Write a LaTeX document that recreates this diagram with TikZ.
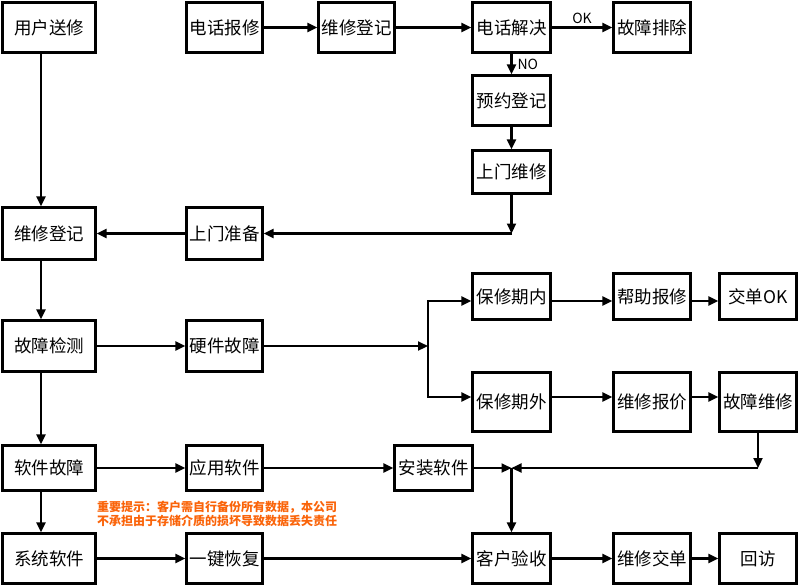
\documentclass[tikz,border=0pt]{standalone}
\usepackage{fontspec}
\setmainfont{Noto Sans CJK SC}
\usetikzlibrary{arrows.meta}
\definecolor{warn}{RGB}{250,100,10}
\begin{document}
\begin{tikzpicture}[x=1pt,y=-1pt,
  box/.style={draw,line width=2.2pt,inner sep=0pt,font=\fontsize{17.5}{20}\selectfont},
  conn/.style={line width=2.2pt,-{Triangle[length=10pt,width=9pt]}},
  lbl/.style={font=\fontsize{14}{16}\selectfont,inner sep=3pt},
  note/.style={anchor=base west,inner sep=0pt,text=warn,font=\bfseries\fontsize{12}{14}\selectfont}]
\useasboundingbox (0,0) rectangle (800,587);
% row 1
\node[box,minimum width=93pt,minimum height=50pt] (yhsx) at (49,27.5) {用户送修};
\node[box,minimum width=76pt,minimum height=50pt] (dhbx) at (224.5,27.5) {电话报修};
\node[box,minimum width=76pt,minimum height=50pt] (wxdja) at (356.5,27.5) {维修登记};
\node[box,minimum width=78pt,minimum height=50pt] (dhjj) at (511.5,27.5) {电话解决};
\node[box,minimum width=77pt,minimum height=50pt] (gzpc) at (652,27.5) {故障排除};
\node[box,minimum width=78pt,minimum height=50pt] (yydj) at (511.5,100.5) {预约登记};
\node[box,minimum width=78pt,minimum height=43pt] (smwx) at (511.5,172) {上门维修};
% row 2
\node[box,minimum width=93pt,minimum height=52pt] (wxdjb) at (49,233.5) {维修登记};
\node[box,minimum width=76pt,minimum height=52pt] (smzb) at (224.5,233.5) {上门准备};
% row 3
\node[box,minimum width=93pt,minimum height=51pt] (gzjc) at (49,346) {故障检测};
\node[box,minimum width=76pt,minimum height=51pt] (yjgz) at (224.5,346) {硬件故障};
\node[box,minimum width=78pt,minimum height=46pt] (bxqn) at (511.5,296.5) {保修期内};
\node[box,minimum width=77pt,minimum height=46pt] (bzbx) at (652,296.5) {帮助报修};
\node[box,minimum width=77pt,minimum height=46pt] (jdok) at (758,296.5) {交单OK};
\node[box,minimum width=78pt,minimum height=59pt] (bxqw) at (511.5,402) {保修期外};
\node[box,minimum width=77pt,minimum height=59pt] (wxbj) at (652,402) {维修报价};
\node[box,minimum width=77pt,minimum height=59pt] (gzwx) at (758,402) {故障维修};
% row 4
\node[box,minimum width=93pt,minimum height=45pt] (rjgz) at (49,468) {软件故障};
\node[box,minimum width=76pt,minimum height=45pt] (yyrj) at (224.5,468) {应用软件};
\node[box,minimum width=78pt,minimum height=45pt] (azrj) at (433.5,468) {安装软件};
% row 5
\node[box,minimum width=93pt,minimum height=50pt] (xtrj) at (49,558.5) {系统软件};
\node[box,minimum width=76pt,minimum height=50pt] (yjhf) at (224.5,558.5) {一键恢复};
\node[box,minimum width=78pt,minimum height=50pt] (khys) at (511.5,558.5) {客户验收};
\node[box,minimum width=77pt,minimum height=50pt] (wxjd) at (652,558.5) {维修交单};
\node[box,minimum width=77pt,minimum height=50pt] (hf) at (758,558.5) {回访};
% note
\node[note] (notea) at (97,511) {重要提示：客户需自行备份所有数据，本公司};
\node[note] (noteb) at (97,525) {不承担由于存储介质的损坏导致数据丢失责任};
% connectors
\draw[conn] ([xshift=-8pt]yhsx.south) -- ([xshift=-8pt]wxdjb.north);
\draw[conn] (dhbx) -- (wxdja);
\draw[conn] (wxdja) -- (dhjj);
\draw[conn] (dhjj) -- node[lbl,above] {OK} (gzpc);
\draw[conn] (dhjj) -- node[lbl,right,xshift=2pt] {NO} (yydj);
\draw[conn] (yydj) -- (smwx);
\coordinate (ca) at (smwx.south |- smzb.east);
\draw[conn] (smwx.south) -- (ca);
\draw[conn] (ca) -- (smzb.east);
\draw[conn] (smzb) -- (wxdjb);
\draw[conn] ([xshift=-8pt]wxdjb.south) -- ([xshift=-8pt]gzjc.north);
\draw[conn] (gzjc) -- (yjgz);
\coordinate (br) at (428,346);
\draw[conn] (yjgz) -- (br);
\draw[conn] (br) |- ([yshift=-4.5pt]bxqn.west);
\draw[conn] (br) |- ([yshift=5pt]bxqw.west);
\draw[conn] ([yshift=-4.5pt]bxqn.east) -- ([yshift=-4.5pt]bzbx.west);
\draw[conn] ([yshift=-4.5pt]bzbx.east) -- ([yshift=-4.5pt]jdok.west);
\draw[conn] ([yshift=5pt]bxqw.east) -- ([yshift=5pt]wxbj.west);
\draw[conn] ([yshift=5pt]wxbj.east) -- ([yshift=5pt]gzwx.west);
\draw[conn] ([xshift=-8pt]gzjc.south) -- ([xshift=-8pt]rjgz.north);
\draw[conn] (rjgz) -- (yyrj);
\draw[conn] (yyrj) -- (azrj);
\coordinate (jn) at (khys.north |- azrj.east);
\coordinate (cb) at (gzwx.south |- azrj.east);
\draw[conn] (gzwx.south) -- (cb);
\draw[conn] (cb) -- (jn);
\draw[conn] (azrj) -- (jn);
\draw[conn] (jn) -- (khys);
\draw[conn] ([xshift=-8pt]rjgz.south) -- ([xshift=-8pt]xtrj.north);
\draw[conn] (xtrj) -- (yjhf);
\draw[conn] (yjhf) -- (khys);
\draw[conn] (khys) -- (wxjd);
\draw[conn] (wxjd) -- (hf);
\end{tikzpicture}
\end{document}
